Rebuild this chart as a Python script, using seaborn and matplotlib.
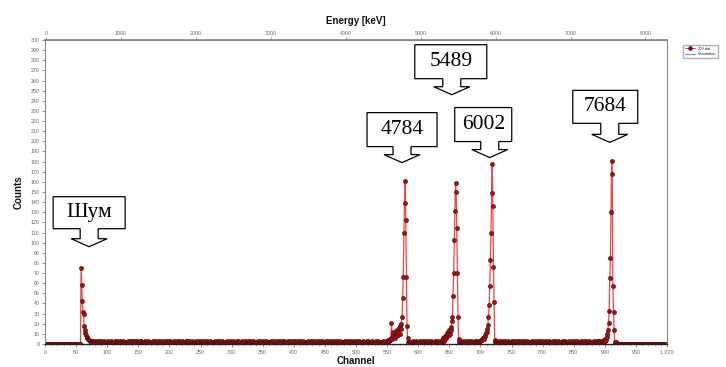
import numpy as np
import pandas as pd
import matplotlib
matplotlib.use("Agg")
import matplotlib.pyplot as plt
import seaborn as sns
from matplotlib.patches import Polygon
from matplotlib.lines import Line2D
from matplotlib.transforms import IdentityTransform

# ---------------- data ----------------
n_channels = 1001
# background counts per channel, hand-read (one digit per channel)
bg_lines = [
    "0000000000 0000000000 0000000000 0000000000 0000000000",  # 0-49
    "0000000000 0000000000 0000000000 2123221312 3122132212",  # 50-99
    "2132213122 1231223121 3122132212 2213121323 1322312132",  # 100
    "2123132212 3212213121 1221321322 2312231221 3121322312",  # 150
    "1322121321 2213231221 3122121323 2131222312 1223121322",  # 200
    "2312213212 1321223121 2213122131 3122312212 2131221322",  # 250
    "1223122131 2312213122 1322121321 3212231221 2131223122",  # 300
    "3122131221 2213212312 1231221322 2312132212 1322312213",  # 350
    "2131221321 3122312212 1223121322 2312213121 3212132212",  # 400
    "1322312213 2131221322 3122131221 2213212312 1231223121",  # 450
    "2312132212 1322121321 3212231221 2131223122 2213122131",  # 500
    "2312213212 1321223121 2213122131 3122312212 2131221322",  # 550
    "1223122131 2312213122 1322121321 3212231221 2131223122",  # 600
    "3122131221 2213212312 1231221322 2312132212 1322312213",  # 650
    "2131221321 3122312212 1223121322 2312213121 3212132212",  # 700
    "1322312213 2131221322 3122131221 2213212312 1231223121",  # 750
    "2312132212 1322121321 3212231221 2131223122 2213122131",  # 800
    "2132213122 1231223121 3122132212 2213121323 1322312132",  # 850
    "2123132212 3212213121",                                    # 900-919
]

noise_start = 58
noise_counts = [75, 58, 42, 32, 30, 18, 14, 11, 9, 7, 6, 5, 4, 4, 3, 3, 2, 3, 2, 2, 3, 2]

p4784_start = 550
p4784_counts = [3, 2, 4, 3, 5, 4, 6, 21, 5, 9, 12, 7, 10, 6, 13, 8, 14, 9, 12, 16, 10, 18,
                15, 20, 27, 45, 66, 110, 139, 161, 122, 66, 18, 6, 2]

p5489_start = 638
p5489_counts = [3, 4, 6, 3, 7, 5, 9, 6, 11, 8, 12, 9, 14, 10, 17, 14, 23, 27, 47, 70, 103,
                131, 159, 150, 114, 70, 27, 5, 2]

p6002_start = 700
p6002_counts = [3, 4, 5, 4, 6, 7, 5, 8, 9, 11, 12, 15, 19, 27, 38, 57, 83, 110, 149, 178,
                136, 76, 41, 4, 2]

p7684_start = 897
p7684_counts = [3, 2, 4, 3, 5, 4, 7, 10, 14, 21, 33, 65, 85, 130, 181, 168, 57, 32, 14, 2, 0]

# callout labels: text, tip channel, tip counts
callout_texts = ["Шум", "4784", "5489", "6002", "7684"]
callout_channel = [71, 574, 654, 715, 908]
callout_counts = [96, 179, 246, 184, 199]

energy_ticks = [0, 1000, 2000, 3000, 4000, 5000, 6000, 7000, 8000]
kev_per_channel = 8.3
channel_ticks = list(range(0, 1001, 50))
channel_labels = [("1 000" if c == 1000 else str(c)) for c in channel_ticks]
count_ticks = list(range(0, 301, 10))

legend_labels = ["20V.dat", "Simulation"]

# ---------------- build series ----------------
bg = "".join(bg_lines).replace(" ", "")
bg = bg[:n_channels].ljust(n_channels, "0")
counts = np.array([int(c) for c in bg], dtype=float)
for start, vals in [(noise_start, noise_counts), (p4784_start, p4784_counts),
                    (p5489_start, p5489_counts), (p6002_start, p6002_counts),
                    (p7684_start, p7684_counts)]:
    counts[start:start + len(vals)] = vals
channel = np.arange(n_channels)
df = pd.DataFrame({"Channel": channel, "Counts": counts})

# ---------------- plot ----------------
sns.set_theme(style="white")
plt.rcParams["font.family"] = ["Liberation Sans", "DejaVu Sans"]

W, H = 726, 367
fig = plt.figure(figsize=(W / 100, H / 100), dpi=100)
ax = fig.add_axes([45 / W, 1 - 344 / H, (667 - 45) / W, (344 - 40) / H])

line_col = "#ee4444"
mk_face = "#9a1515"
mk_edge = "#5a0808"
sns.lineplot(data=df, x="Channel", y="Counts", ax=ax, color=line_col, linewidth=0.9,
             marker="o", markersize=3.0, markerfacecolor=mk_face,
             markeredgecolor=mk_edge, markeredgewidth=0.4, estimator=None, sort=False)

ax.set_xlim(0, 1000)
ax.set_ylim(0, 300)
ax.set_xticks(channel_ticks)
ax.set_xticklabels(channel_labels)
ax.set_xticks(list(range(0, 1001, 10)), minor=True)
ax.set_yticks(count_ticks)
ax.tick_params(axis="both", which="major", labelsize=3.8, colors="#666666",
               length=2.5, width=0.5, pad=1.5, direction="out", bottom=True, left=True)
ax.tick_params(axis="x", which="minor", length=1.2, width=0.4, colors="#888888", bottom=True)
ax.set_xlabel("Channel", fontsize=7, fontweight="bold", color="#111111", labelpad=1)
ax.set_ylabel("Counts", fontsize=7, fontweight="bold", color="#111111", labelpad=5)
for s in ["left", "top", "right"]:
    ax.spines[s].set_color("#888888")
    ax.spines[s].set_linewidth(0.8)
ax.spines["bottom"].set_color("#222222")
ax.spines["bottom"].set_linewidth(1.0)

sec = ax.secondary_xaxis("top", functions=(lambda c: (c - 1.5) * kev_per_channel,
                                           lambda e: e / kev_per_channel + 1.5))
sec.set_xticks(energy_ticks)
sec.tick_params(labelsize=3.8, colors="#666666", length=2, width=0.5, pad=1)
sec.set_xlabel("Energy [keV]", fontsize=7, fontweight="bold", color="#111111", labelpad=5)
sec.spines["top"].set_color("#888888")

# ---------------- callouts ----------------
geom = {  # dx0, dx1, gap, height (pixels)
    "Шум": (-36, 36, 18, 32),
    "4784": (-35, 35, 16, 34),
    "5489": (-37, 35, 16, 34),
    "6002": (-35, 22, 16, 34),
    "7684": (-37, 28, 19, 33),
}
sw, hw, hh = 9, 18, 8
for txt, ch, ct in zip(callout_texts, callout_channel, callout_counts):
    dx0, dx1, gap, h = geom[txt]
    tx, ty = ax.transData.transform((ch, ct))
    yb = ty + gap
    yt = yb + h
    pts = [(tx + dx0, yt), (tx + dx1, yt), (tx + dx1, yb), (tx + sw, yb), (tx + sw, ty + hh),
           (tx + hw, ty + hh), (tx, ty), (tx - hw, ty + hh), (tx - sw, ty + hh),
           (tx - sw, yb), (tx + dx0, yb)]
    poly = Polygon(pts, closed=True, facecolor="white", edgecolor="black", linewidth=0.9,
                   transform=IdentityTransform(), zorder=5)
    fig.add_artist(poly)
    fig.text(tx + (dx0 + dx1) / 2, yb + h / 2, txt, transform=IdentityTransform(),
             ha="center", va="center", fontsize=15.5, family=["Liberation Serif", "DejaVu Serif"],
             color="black", zorder=6)

# ---------------- legend ----------------
handles = [
    Line2D([], [], color=line_col, lw=0.8, marker="o", markersize=2.2,
           markerfacecolor=mk_face, markeredgecolor=mk_edge, label=legend_labels[0]),
    Line2D([], [], color="#7f7fff", lw=0.8, label=legend_labels[1]),
]
fig.legend(handles=handles, loc="upper left", bbox_to_anchor=(683 / W, 1 - 45 / H),
           fontsize=2.9, frameon=True, fancybox=False, edgecolor="#999999",
           borderpad=0.4, handlelength=2.6, handletextpad=0.6, labelspacing=0.4,
           borderaxespad=0.0)

fig.savefig("out.png", dpi=100)
